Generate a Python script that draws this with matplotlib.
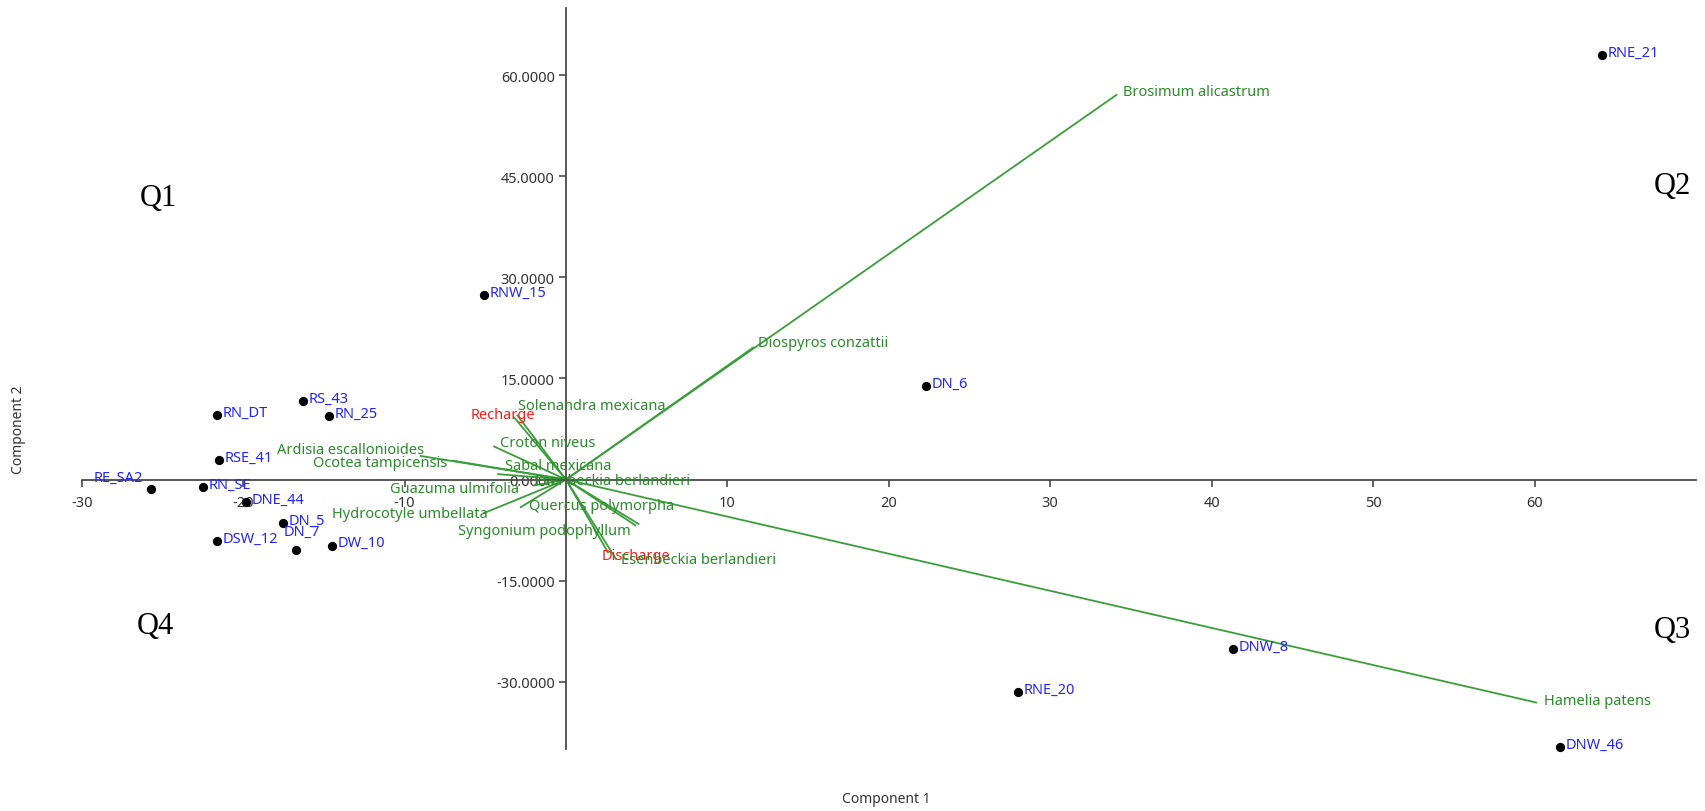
import matplotlib
matplotlib.use("Agg")
import matplotlib.pyplot as plt
import matplotlib.ticker as mticker

plt.rcParams['font.family'] = ['Noto Sans', 'DejaVu Sans']

# sample scores (Component 1, Component 2)
sites = ['RS_43', 'RN_DT', 'RN_25', 'RSE_41', 'RE_SA2', 'RN_SE', 'DNE_44', 'DN_5',
         'DSW_12', 'DN_7', 'DW_10', 'RNW_15', 'RNE_21', 'DN_6', 'RNE_20', 'DNW_8', 'DNW_46']
site_x = [-16.3, -21.6, -14.7, -21.5, -25.7, -22.5, -19.8, -17.5,
          -21.6, -16.7, -14.5, -5.1, 64.2, 22.3, 28.0, 41.3, 61.6]
site_y = [11.7, 9.6, 9.4, 2.9, -1.4, -1.1, -3.4, -6.5,
          -9.2, -10.4, -9.8, 27.4, 63.0, 13.9, -31.5, -25.2, -39.7]

# variable loadings (biplot vectors)
var_names = ['Brosimum alicastrum', 'Diospyros conzattii', 'Hamelia patens',
             'Solenandra mexicana', 'Recharge', 'Croton niveus', 'Ardisia escallonioides',
             'Ocotea tampicensis', 'Sabal mexicana', 'Esenbeckia berlandieri',
             'Guazuma ulmifolia', 'Quercus polymorpha', 'Hydrocotyle umbellata',
             'Syngonium podophyllum', 'Discharge', 'Esenbeckia berlandieri ']
var_x = [34.1, 11.6, 60.1, -3.0, -3.2, -4.45, -9.0, -7.0, -4.2, 4.3,
         -2.0, -2.8, -5.1, 4.5, 2.6, 3.1]
var_y = [57.1, 19.6, -33.1, 9.5, 9.2, 4.9, 3.5, 2.8, 0.8, -6.8,
         -0.9, -4.1, -5.0, -6.6, -10.8, -11.8]
supplementary = ['Recharge', 'Discharge']

# where each variable name is written (left edge, centre line)
label_at = {
    'Brosimum alicastrum': (34.5, 57.6),
    'Diospyros conzattii': (11.9, 20.4),
    'Hamelia patens': (60.6, -32.8),
    'Solenandra mexicana': (-3.0, 10.95),
    'Recharge': (-5.9, 9.7),
    'Croton niveus': (-4.1, 5.5),
    'Ardisia escallonioides': (-17.9, 4.5),
    'Ocotea tampicensis': (-15.65, 2.55),
    'Sabal mexicana': (-3.8, 2.15),
    'Esenbeckia berlandieri': (-1.9, -0.2),
    'Guazuma ulmifolia': (-10.9, -1.3),
    'Quercus polymorpha': (-2.3, -3.9),
    'Hydrocotyle umbellata': (-14.5, -5.0),
    'Syngonium podophyllum': (-6.7, -7.6),
    'Discharge': (2.2, -11.3),
    'Esenbeckia berlandieri ': (3.4, -11.8),
}
# site label offsets in points (default: right of the dot)
site_offset = {'RE_SA2': (-6, 8, 'right'), 'DN_7': (-9, 13, 'left')}

axis_col = '#4a4a4a'
line_col = '#3a9e3a'
green_txt = '#2a8c2a'

fig = plt.figure(figsize=(17.05, 8.12), dpi=100)
ax = fig.add_axes([0.0479, 0.0764, 0.9468, 0.9125])
ax.set_xlim(-30, 70)
ax.set_ylim(-40, 70)

for sp in ['top', 'right']:
    ax.spines[sp].set_visible(False)
for sp in ['left', 'bottom']:
    ax.spines[sp].set_position(('data', 0))
    ax.spines[sp].set_color(axis_col)
    ax.spines[sp].set_linewidth(1.3)

ax.set_xticks([-30, -20, -10, 10, 20, 30, 40, 50, 60])
ax.set_yticks([-30, -15, 0, 15, 30, 45, 60])
ax.yaxis.set_major_formatter(mticker.FormatStrFormatter('%.4f'))
ax.xaxis.set_major_formatter(mticker.FormatStrFormatter('%d'))
ax.tick_params(axis='both', direction='out', length=5, width=1.2, color=axis_col,
               labelsize=10.5, labelcolor='#333333')
ax.tick_params(axis='x', pad=6)
ax.tick_params(axis='y', pad=3)

# vectors
for name, vx, vy in zip(var_names, var_x, var_y):
    ax.plot([0, vx], [0, vy], color=line_col, lw=1.3, zorder=2)
    lx, ly = label_at[name]
    col = '#ff1a1a' if name in supplementary else green_txt
    ax.text(lx, ly, name.strip(), color=col, fontsize=10.5, ha='left', va='center', zorder=4)

# sample points
ax.scatter(site_x, site_y, s=32, color='black', zorder=5, clip_on=False)
for name, sx, sy in zip(sites, site_x, site_y):
    dx, dy, ha = site_offset.get(name, (4, 2, 'left'))
    ax.annotate(name, (sx, sy), xytext=(dx, dy), textcoords='offset points',
                color='#2323ff', fontsize=10.5, ha=ha, va='center', zorder=6,
                annotation_clip=False)

fig.text(0.52, 0.0148, 'Component 1', fontsize=10, color='#333333', ha='center', va='center')
fig.text(0.0108, 0.471, 'Component 2', fontsize=10, color='#333333', ha='center', va='center',
         rotation=90)

qfont = dict(family=['Liberation Serif', 'DejaVu Serif'], fontsize=22, color='black',
             ha='center', va='center')
fig.text(0.0931, 0.756, 'Q1', **qfont)
fig.text(0.9807, 0.770, 'Q2', **qfont)
fig.text(0.9807, 0.2233, 'Q3', **qfont)
fig.text(0.0912, 0.228, 'Q4', **qfont)

fig.savefig('out.png', dpi=100)
